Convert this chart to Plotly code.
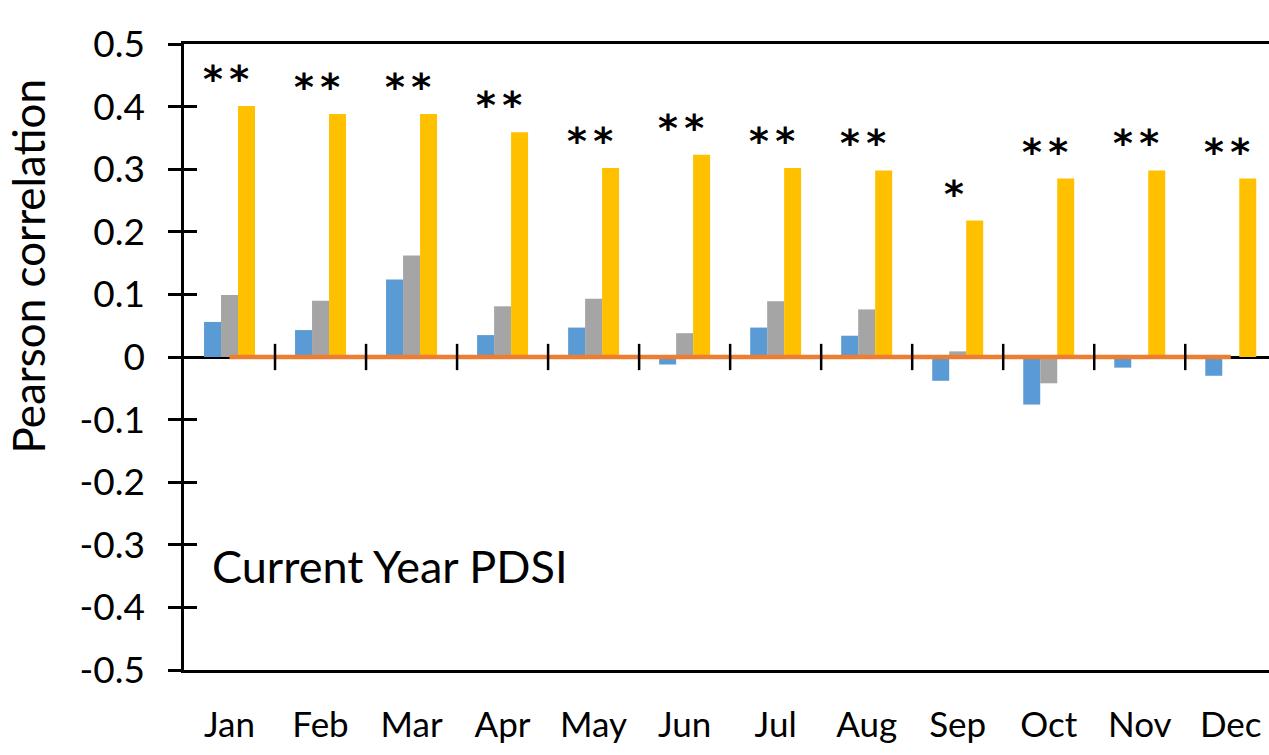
import plotly.graph_objects as go

months = ["Jan", "Feb", "Mar", "Apr", "May", "Jun", "Jul", "Aug", "Sep", "Oct", "Nov", "Dec"]
blue_vals = [0.056, 0.043, 0.124, 0.035, 0.047, -0.012, 0.047, 0.034, -0.038, -0.076, -0.017, -0.030]
orange_vals = [0, 0, 0, 0, 0, 0, 0, 0, 0, 0, 0, 0]
gray_vals = [0.099, 0.090, 0.162, 0.081, 0.093, 0.038, 0.089, 0.076, 0.009, -0.042, 0.0, 0.0]
yellow_vals = [0.401, 0.388, 0.388, 0.359, 0.302, 0.323, 0.302, 0.298, 0.218, 0.285, 0.298, 0.285]
sig_labels = ["**", "**", "**", "**", "**", "**", "**", "**", "*", "**", "**", "**"]
y_tickvals = [-0.5, -0.4, -0.3, -0.2, -0.1, 0, 0.1, 0.2, 0.3, 0.4, 0.5]
y_ticktext = ["-0.5", "-0.4", "-0.3", "-0.2", "-0.1", "0", "0.1", "0.2", "0.3", "0.4", "0.5"]

FONT = "Lato"
BLUE = "#5B9BD5"
ORANGE = "#ED7D31"
GRAY = "#A5A5A5"
YELLOW = "#FFC000"

fig = go.Figure()
fig.add_trace(go.Bar(x=months, y=blue_vals, marker=dict(color=BLUE, line=dict(width=0)), showlegend=False))
fig.add_trace(go.Bar(x=months, y=gray_vals, marker=dict(color=GRAY, line=dict(width=0)), showlegend=False))
fig.add_trace(go.Bar(x=months, y=yellow_vals, marker=dict(color=YELLOW, line=dict(width=0)), showlegend=False))
fig.add_trace(go.Scatter(x=months, y=orange_vals, mode="lines", line=dict(color=ORANGE, width=4.5), showlegend=False))

# invisible trace on overlay axis so inside ticks render
fig.add_trace(go.Scatter(x=[months[0]], y=[0], yaxis="y2", mode="markers", marker=dict(opacity=0),
                         showlegend=False, hoverinfo="skip"))

# tick marks crossing the zero axis between categories
shapes = []
for i in range(len(months)):
    shapes.append(dict(type="line", xref="x", yref="y", x0=i + 0.5, x1=i + 0.5, y0=-0.021, y1=0.021,
                       line=dict(color="black", width=2.5)))

annotations = []
for m, v, s in zip(months, yellow_vals, sig_labels):
    annotations.append(dict(x=m, y=v, xref="x", yref="y", text="<b>" + "\u2006".join(s) + "</b>",
                            showarrow=False, xanchor="center", yanchor="bottom", xshift=-4, yshift=3,
                            font=dict(family="DejaVu Sans", size=38, color="black")))

annotations.append(dict(x=(27 - 184) / 1085, y=(670 - 266.5) / 626, xref="paper", yref="paper",
                        text="Pearson correlation", textangle=-90, showarrow=False,
                        xanchor="center", yanchor="middle",
                        font=dict(family=FONT, size=44, color="black")))
annotations.append(dict(x=(210 - 184) / 1085, y=(670 - 566) / 626, xref="paper", yref="paper",
                        text="Current Year PDSI", showarrow=False,
                        xanchor="left", yanchor="middle",
                        font=dict(family=FONT, size=45, color="black")))

fig.update_layout(
    width=1269, height=755,
    margin=dict(l=184, r=0, t=44, b=85),
    paper_bgcolor="white", plot_bgcolor="white",
    barmode="group", bargap=0.44, bargroupgap=0,
    font=dict(family=FONT, color="black"),
    shapes=shapes, annotations=annotations,
    xaxis=dict(type="category", range=[-0.5, 11.42], showgrid=False, zeroline=False,
               showline=True, mirror=True, linecolor="black", linewidth=2.5,
               ticks="", ticklabelstandoff=22, tickfont=dict(family=FONT, size=35, color="black")),
    yaxis=dict(range=[-0.5, 0.5], tickvals=y_tickvals, ticktext=y_ticktext, showgrid=False,
               zeroline=True, zerolinecolor="black", zerolinewidth=2.5,
               showline=True, linecolor="black", linewidth=2.5,
               ticks="outside", ticklen=13, tickwidth=2.5, tickcolor="black",
               ticklabelstandoff=16, tickfont=dict(family=FONT, size=37, color="black")),
    yaxis2=dict(range=[-0.5, 0.5], overlaying="y", side="left", tickvals=y_tickvals,
                showticklabels=False, showgrid=False, zeroline=False, showline=False,
                ticks="inside", ticklen=13, tickwidth=2.5, tickcolor="black"),
)

fig.write_html("out.html")
